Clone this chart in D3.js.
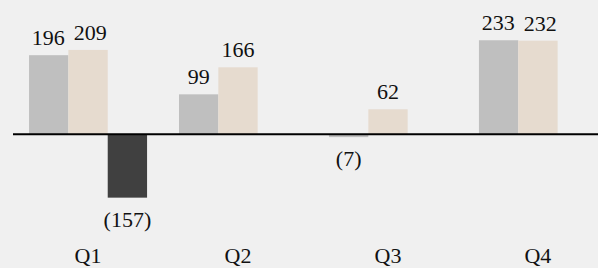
<!DOCTYPE html>
<html>
<head>
<meta charset="utf-8">
<script src="https://cdn.jsdelivr.net/npm/d3@7"></script>
<style>
  body { margin: 0; background: #f0f0f0; }
  svg { display: block; background: #f0f0f0; }
</style>
</head>
<body>
<div id="chart"></div>
<script>
const quarters = ['Q1', 'Q2', 'Q3', 'Q4'];
const seriesA = [196, 99, -7, 233];
const seriesB = [209, 166, 62, 232];
const seriesC = [-157, null, null, null];
const seriesColors = ['#bfbfbf', '#e6dbcf', '#404040'];

const FONT = "'Liberation Serif', 'DejaVu Serif', serif";
const width = 598, height = 268;

const svg = d3.select('#chart')
  .append('svg')
  .attr('width', width)
  .attr('height', height)
  .style('font-family', FONT);

const x0 = d3.scaleBand()
  .domain(quarters)
  .range([13, 613])
  .paddingInner(0.213)
  .paddingOuter(0.107);

const x1 = d3.scaleBand()
  .domain([0, 1, 2])
  .range([0, x0.bandwidth()]);

const y = d3.scaleLinear()
  .domain([-200, 250])
  .range([215, 33.4]);

const allSeries = [seriesA, seriesB, seriesC];
const bars = [];
allSeries.forEach((s, si) => {
  s.forEach((v, qi) => {
    if (v === null) return;
    bars.push({ q: quarters[qi], s: si, v: v });
  });
});

const fmt = v => v < 0 ? '(' + Math.abs(v) + ')' : String(v);

// bars
svg.append('g')
  .selectAll('rect')
  .data(bars)
  .join('rect')
  .attr('x', d => x0(d.q) + x1(d.s))
  .attr('width', x1.bandwidth())
  .attr('y', d => y(Math.max(0, d.v)))
  .attr('height', d => Math.abs(y(d.v) - y(0)))
  .attr('fill', d => seriesColors[d.s]);

// zero line
svg.append('line')
  .attr('x1', 13)
  .attr('x2', width)
  .attr('y1', y(0))
  .attr('y2', y(0))
  .attr('stroke', '#000')
  .attr('stroke-width', 2);

// value labels
const labels = svg.append('g')
  .selectAll('text')
  .data(bars)
  .join('text')
  .attr('font-family', FONT)
  .attr('font-size', 22)
  .attr('fill', '#111')
  .attr('text-anchor', 'middle')
  .attr('x', d => x0(d.q) + x1(d.s) + x1.bandwidth() / 2)
  .attr('y', d => d.v >= 0 ? y(d.v) - 10 : y(d.v) + 29)
  .text(d => fmt(d.v));

// push apart labels that sit too close in the same quarter
quarters.forEach(q => {
  const inQ = labels.filter(d => d.q === q && d.v >= 0).nodes();
  for (let i = 1; i < inQ.length; i++) {
    const a = inQ[i - 1].getBBox(), b = inQ[i].getBBox();
    const gap = b.x - (a.x + a.width);
    const vOverlap = !(b.y > a.y + a.height || a.y > b.y + b.height);
    if (vOverlap && gap < 9) {
      const shift = 9 - gap;
      d3.select(inQ[i - 1]).attr('x', +inQ[i - 1].getAttribute('x') - shift * 0.15);
      d3.select(inQ[i]).attr('x', +inQ[i].getAttribute('x') + shift * 0.85);
    }
  }
});

// quarter labels
svg.append('g')
  .selectAll('text')
  .data(quarters)
  .join('text')
  .attr('font-family', FONT)
  .attr('font-size', 22)
  .attr('fill', '#111')
  .attr('text-anchor', 'middle')
  .attr('x', d => x0(d) + x0.bandwidth() / 2)
  .attr('y', 263)
  .text(d => d);
</script>
</body>
</html>
